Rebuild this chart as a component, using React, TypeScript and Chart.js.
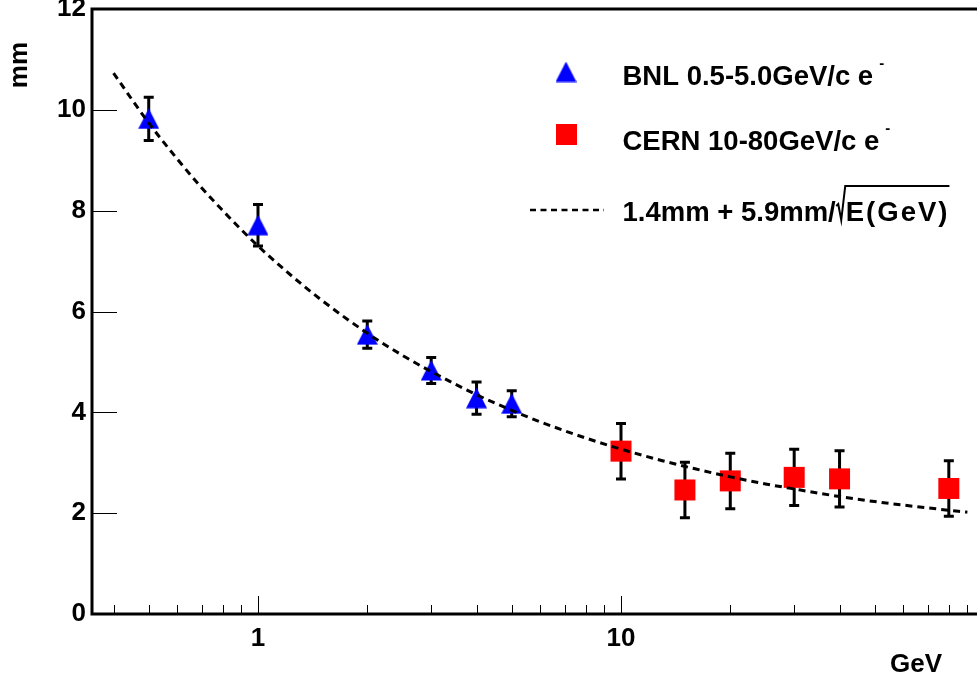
import { useEffect, useRef } from 'react';
import { Chart, registerables } from 'chart.js';

Chart.register(...registerables);

// ---- data ----
const BNL_E = [0.5, 1, 2, 3, 4, 5];
const BNL_RES = [9.82, 7.71, 5.54, 4.83, 4.28, 4.17];
const BNL_ERR = [0.43, 0.41, 0.27, 0.26, 0.32, 0.26];

const CERN_E = [10, 15, 20, 30, 40, 80];
const CERN_RES = [3.23, 2.46, 2.64, 2.71, 2.68, 2.49];
const CERN_ERR = [0.55, 0.55, 0.55, 0.56, 0.56, 0.55];

const FIT_E = [0.4, 0.45, 0.5, 0.6, 0.7, 0.8, 0.9, 1, 1.2, 1.5, 2, 2.5, 3, 4, 5, 6, 8, 10, 13, 16, 20, 25, 30, 40, 50, 60, 75, 90];
const FIT_RES = [10.73, 10.2, 9.74, 9.02, 8.45, 8.0, 7.62, 7.3, 6.79, 6.22, 5.57, 5.13, 4.81, 4.35, 4.04, 3.81, 3.49, 3.27, 3.04, 2.88, 2.72, 2.58, 2.48, 2.33, 2.23, 2.16, 2.08, 2.02];

const X_LABELS = [1, 10];
const X_MAJOR = [1, 10, 100];
const X_MINOR = [0.4, 0.5, 0.6, 0.7, 0.8, 0.9, 2, 3, 4, 5, 6, 7, 8, 9, 20, 30, 40, 50, 60, 70, 80, 90];
const Y_TICKS = [0, 2, 4, 6, 8, 10, 12];

const LEGEND_LABELS = ['BNL 0.5-5.0GeV/c e', 'CERN 10-80GeV/c e', '1.4mm + 5.9mm/'];
const LEGEND_SQRT = 'E(GeV)';
const SUPER_MINUS = '-';
const X_TITLE = 'GeV';
const Y_TITLE = 'mm';

const FONT = '"Liberation Sans", Arial, Helvetica, sans-serif';
const OY = 20; // canvas is shifted up by this amount

function makeTriangle(): HTMLCanvasElement {
  const c = document.createElement('canvas');
  c.width = 21;
  c.height = 21;
  const g = c.getContext('2d')!;
  g.fillStyle = '#0000ff';
  g.beginPath();
  g.moveTo(10.5, 0);
  g.lineTo(21, 20.5);
  g.lineTo(0, 20.5);
  g.closePath();
  g.fill();
  return c;
}

export default function App() {
  const ref = useRef<HTMLCanvasElement | null>(null);

  useEffect(() => {
    if (!ref.current) return;
    const tri = makeTriangle();

    const errorBars = {
      id: 'errorBars',
      beforeDatasetsDraw(chart: any) {
        const { ctx, scales } = chart;
        const x = scales.x;
        const y = scales.y;
        ctx.save();
        ctx.strokeStyle = '#000';
        ctx.lineWidth = 3;
        const groups: [number[], number[], number[]][] = [
          [BNL_E, BNL_RES, BNL_ERR],
          [CERN_E, CERN_RES, CERN_ERR],
        ];
        for (const [es, vs, errs] of groups) {
          es.forEach((e, i) => {
            const px = x.getPixelForValue(e);
            const top = y.getPixelForValue(vs[i] + errs[i]);
            const bot = y.getPixelForValue(vs[i] - errs[i]);
            ctx.beginPath();
            ctx.moveTo(px, top);
            ctx.lineTo(px, bot);
            ctx.moveTo(px - 5, top);
            ctx.lineTo(px + 5, top);
            ctx.moveTo(px - 5, bot);
            ctx.lineTo(px + 5, bot);
            ctx.stroke();
          });
        }
        ctx.restore();
      },
    };

    const frame = {
      id: 'frame',
      afterDraw(chart: any) {
        const { ctx, chartArea: a, scales } = chart;
        const x = scales.x;
        const y = scales.y;
        ctx.save();
        ctx.strokeStyle = '#000';
        ctx.lineWidth = 1;
        ctx.beginPath();
        for (const v of X_MINOR) {
          const px = Math.round(x.getPixelForValue(v)) + 0.5;
          ctx.moveTo(px, a.bottom);
          ctx.lineTo(px, a.bottom - 9);
        }
        for (const v of X_MAJOR) {
          const px = Math.round(x.getPixelForValue(v)) + 0.5;
          ctx.moveTo(px, a.bottom);
          ctx.lineTo(px, a.bottom - 18);
        }
        for (const v of Y_TICKS) {
          const py = Math.round(y.getPixelForValue(v)) + 0.5;
          ctx.moveTo(a.left, py);
          ctx.lineTo(a.left + 25, py);
        }
        ctx.stroke();
        ctx.lineWidth = 3;
        ctx.strokeRect(a.left, a.top, a.right - a.left, a.bottom - a.top);

        // axis titles
        ctx.fillStyle = '#000';
        ctx.font = `bold 26px ${FONT}`;
        ctx.textBaseline = 'alphabetic';
        ctx.textAlign = 'right';
        ctx.fillText(X_TITLE, 942, 672 + OY);
        ctx.save();
        ctx.translate(27, 42 + OY);
        ctx.rotate(-Math.PI / 2);
        ctx.textAlign = 'right';
        ctx.fillText(Y_TITLE, 0, 0);
        ctx.restore();

        // legend
        ctx.textAlign = 'left';
        ctx.drawImage(tri, 566 - 10.5, 72 + OY - 10.5);
        ctx.fillStyle = '#ff0000';
        ctx.fillRect(556, 124 + OY, 21, 21);
        ctx.strokeStyle = '#000';
        ctx.lineWidth = 2.5;
        ctx.setLineDash([6, 4.5]);
        ctx.beginPath();
        ctx.moveTo(530, 210 + OY);
        ctx.lineTo(604, 210 + OY);
        ctx.stroke();
        ctx.setLineDash([]);

        ctx.fillStyle = '#000';
        const tx = 622.5;
        const base = [84.5, 150, 221];
        const supBase = [68, 132.5];
        ctx.font = `bold 27.5px ${FONT}`;
        const w0 = ctx.measureText(LEGEND_LABELS[0]).width;
        const w1 = ctx.measureText(LEGEND_LABELS[1]).width;
        ctx.fillText(LEGEND_LABELS[0], tx, base[0] + OY);
        ctx.fillText(LEGEND_LABELS[1], tx, base[1] + OY);
        ctx.fillText(LEGEND_LABELS[2], tx, base[2] + OY);
        const w2 = ctx.measureText(LEGEND_LABELS[2]).width;
        const rx = tx + w2;
        const sx = rx + 10;
        (ctx as any).letterSpacing = '2px';
        ctx.fillText(LEGEND_SQRT, sx, base[2] + OY);
        const ws = ctx.measureText(LEGEND_SQRT).width;
        (ctx as any).letterSpacing = '0px';
        // radical sign
        ctx.lineWidth = 2;
        ctx.lineJoin = 'miter';
        ctx.beginPath();
        ctx.moveTo(rx + 0.5, 206 + OY);
        ctx.lineTo(rx + 2.5, 204 + OY);
        ctx.lineTo(rx + 5.5, 220 + OY);
        ctx.lineTo(rx + 9.5, 186 + OY);
        ctx.lineTo(sx + ws, 186 + OY);
        ctx.stroke();

        ctx.font = `bold 15px ${FONT}`;
        ctx.fillText(SUPER_MINUS, tx + w0 + 6, supBase[0] + OY);
        ctx.fillText(SUPER_MINUS, tx + w1 + 6, supBase[1] + OY);
        ctx.restore();
      },
    };

    const tickFont = { family: FONT, size: 26, weight: 'bold' as const };

    const chart = new Chart(ref.current, {
      type: 'scatter',
      data: {
        datasets: [
          {
            type: 'line',
            label: 'fit',
            data: FIT_E.map((e, i) => ({ x: e, y: FIT_RES[i] })),
            borderColor: '#000',
            borderWidth: 3,
            borderDash: [7, 5],
            pointRadius: 0,
            fill: false,
            cubicInterpolationMode: 'monotone',
          },
          {
            label: 'BNL',
            data: BNL_E.map((e, i) => ({ x: e, y: BNL_RES[i] })),
            pointStyle: tri,
            pointRadius: 10,
            backgroundColor: '#0000ff',
            borderWidth: 0,
          },
          {
            label: 'CERN',
            data: CERN_E.map((e, i) => ({ x: e, y: CERN_RES[i] })),
            pointStyle: 'rect',
            pointRadius: 14.85,
            backgroundColor: '#ff0000',
            borderColor: '#ff0000',
            borderWidth: 0,
          },
        ] as any,
      },
      options: {
        responsive: false,
        animation: false,
        events: [],
        layout: { padding: { top: 9 + OY, right: 16, left: 0, bottom: 0 } },
        plugins: { legend: { display: false }, tooltip: { enabled: false } },
        scales: {
          x: {
            type: 'logarithmic',
            bounds: 'data',
            min: 0.3489,
            max: 100,
            grid: { display: false, drawTicks: false },
            border: { display: false },
            afterBuildTicks: (s: any) => {
              s.ticks = X_LABELS.map((v) => ({ value: v }));
            },
            afterFit: (s: any) => {
              s.height = 67;
            },
            ticks: {
              autoSkip: false,
              maxRotation: 0,
              padding: 9,
              color: '#000',
              font: tickFont,
              callback: (v: any) => String(v),
            },
          },
          y: {
            min: 0,
            max: 12,
            grid: { display: false, drawTicks: false },
            border: { display: false },
            afterFit: (s: any) => {
              s.width = 92;
            },
            ticks: {
              stepSize: 2,
              padding: 6,
              color: '#000',
              font: tickFont,
              callback: (v: any) => String(v),
            },
          },
        },
      } as any,
      plugins: [errorBars, frame],
    });
    return () => chart.destroy();
  }, []);

  return (
    <div style={{ position: 'fixed', left: 0, top: 0, width: 977, height: 681, overflow: 'hidden', background: '#fff' }}>
      <canvas ref={ref} width={1000} height={701} style={{ position: 'absolute', left: 0, top: -OY, width: 1000, height: 701 }} />
    </div>
  );
}
